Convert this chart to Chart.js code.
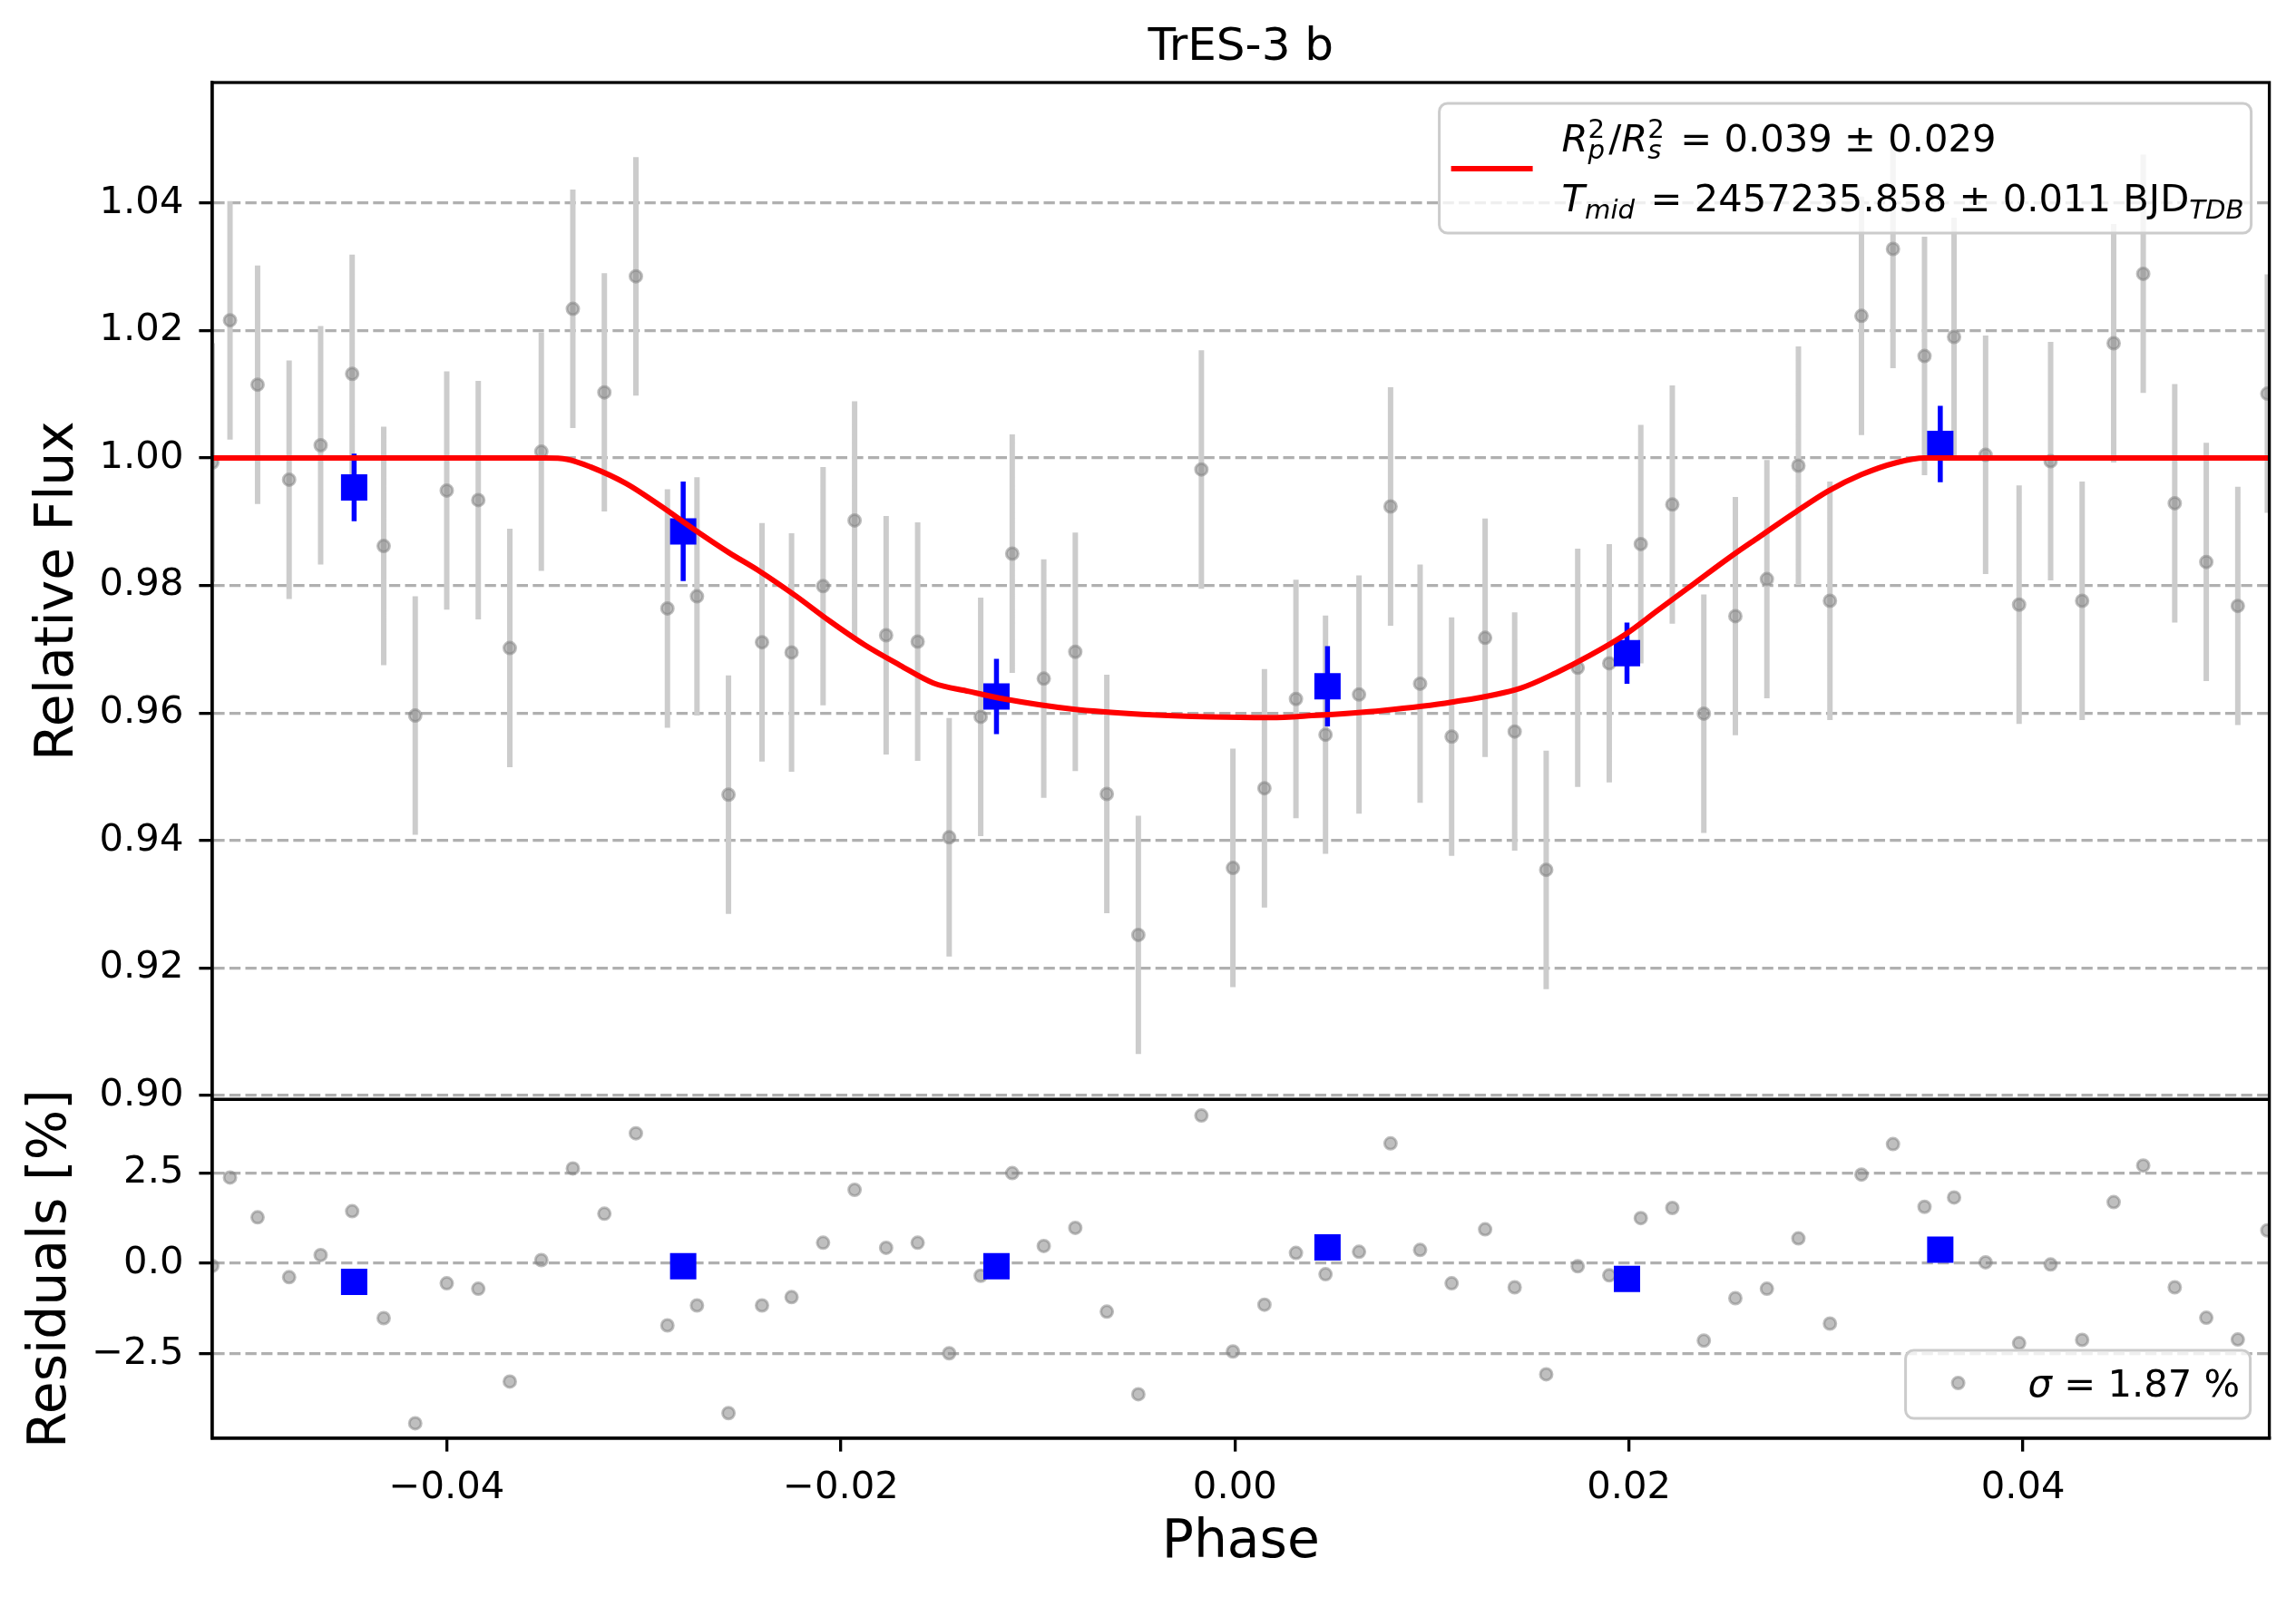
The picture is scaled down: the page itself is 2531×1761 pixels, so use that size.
<!DOCTYPE html>
<html>
<head>
<meta charset="utf-8">
<title>TrES-3 b</title>
<script src="https://cdn.jsdelivr.net/npm/chart.js@4.4.1/dist/chart.umd.min.js"></script>
<style>
  html, body { margin: 0; padding: 0; background: #fff; }
  #wrap { width: 2531px; height: 1761px; }
</style>
</head>
<body>
<div id="wrap"><canvas id="myChart"></canvas></div>
<script>
// unbinned points
const grayPhase = [
  -0.0519, -0.0510, -0.0496, -0.0480, -0.0464, -0.0448, -0.0432, -0.0416, -0.0400, -0.0384,
  -0.0368, -0.0352, -0.0336, -0.0320, -0.0304, -0.0288, -0.0273, -0.0257, -0.0240, -0.0225,
  -0.0209, -0.0193, -0.0177, -0.0161, -0.0145, -0.0129, -0.0113, -0.0097, -0.0081, -0.0065,
  -0.0049, -0.0017, -0.0001, 0.0015, 0.0031, 0.0046, 0.0063, 0.0079, 0.0094, 0.0110,
  0.0127, 0.0142, 0.0158, 0.0174, 0.0190, 0.0206, 0.0222, 0.0238, 0.0254, 0.0270,
  0.0286, 0.0302, 0.0318, 0.0334, 0.0350, 0.0365, 0.0381, 0.0398, 0.0414, 0.0430,
  0.0446, 0.0461, 0.0477, 0.0493, 0.0509, 0.0524
];
const grayFlux = [
  0.9993, 1.0216, 1.0115, 0.9966, 1.0020, 1.0132, 0.9862, 0.9596, 0.9949, 0.9934,
  0.9702, 1.0010, 1.0234, 1.0103, 1.0285, 0.9764, 0.9783, 0.9472, 0.9711, 0.9695,
  0.9799, 0.9902, 0.9722, 0.9712, 0.9405, 0.9594, 0.9850, 0.9654, 0.9696, 0.9473,
  0.9252, 0.9982, 0.9357, 0.9482, 0.9622, 0.9566, 0.9629, 0.9924, 0.9646, 0.9563,
  0.9718, 0.9571, 0.9354, 0.9671, 0.9678, 0.9865, 0.9927, 0.9599, 0.9752, 0.9810,
  0.9988, 0.9776, 1.0223, 1.0328, 1.0160, 1.0190, 1.0005, 0.9770, 0.9995, 0.9776,
  1.0180, 1.0289, 0.9929, 0.9837, 0.9768, 1.0101
];
const grayErr = 0.0187;
const grayResid = [
  -0.07, 2.37, 1.27, -0.38, 0.23, 1.44, -1.51, -4.41, -0.55, -0.70,
  -3.26, 0.09, 2.62, 1.37, 3.59, -1.71, -1.16, -4.13, -1.16, -0.93,
  0.57, 2.03, 0.43, 0.57, -2.48, -0.34, 2.49, 0.48, 0.98, -1.33,
  -3.61, 4.08, -2.43, -1.14, 0.29, -0.30, 0.32, 3.31, 0.37, -0.55,
  0.94, -0.66, -3.06, -0.08, -0.33, 1.25, 1.53, -2.13, -0.96, -0.70,
  0.69, -1.66, 2.45, 3.29, 1.56, 1.82, 0.03, -2.20, -0.03, -2.11,
  1.69, 2.70, -0.66, -1.50, -2.10, 0.91
];

// binned points
const binPhase = [-0.0447, -0.0280, -0.0121, 0.0047, 0.0199, 0.0358];
const binFlux = [0.9954, 0.9885, 0.9626, 0.9642, 0.9694, 1.0022];
const binErr = [0.0053, 0.0078, 0.0059, 0.0063, 0.0048, 0.0060];
const binResid = [-0.51, -0.08, -0.08, 0.44, -0.43, 0.38];

// transit model
const modelPhase = [
  -0.0519, -0.0350, -0.0339, -0.0327, -0.0309, -0.0292, -0.0274, -0.0257, -0.0241, -0.0223,
  -0.0206, -0.0188, -0.0170, -0.0153, -0.0135, -0.0117, -0.0082, -0.0047, -0.0012, 0.0018,
  0.0039, 0.0075, 0.0110, 0.0145, 0.0163, 0.0180, 0.0198, 0.0215, 0.0233, 0.0251,
  0.0266, 0.0284, 0.0301, 0.0318, 0.0336, 0.0350, 0.0525
];
const modelFlux = [
  1.0000, 1.0000, 0.9998, 0.9986, 0.9960, 0.9926, 0.9887, 0.9852, 0.9822, 0.9784,
  0.9745, 0.9707, 0.9675, 0.9647, 0.9634, 0.9622, 0.9606, 0.9598, 0.9594, 0.9593,
  0.9596, 0.9604, 0.9617, 0.9639, 0.9663, 0.9690, 0.9723, 0.9762, 0.9803, 0.9844,
  0.9876, 0.9914, 0.9948, 0.9974, 0.9993, 1.0000, 1.0000
];

// axes
const phaseRange = [-0.0519, 0.0525];
const fluxRange = [0.8994, 1.0589];
const residRange = [-4.825, 4.525];
const phaseTicks = [-0.04, -0.02, 0.00, 0.02, 0.04];
const fluxTicks = [0.90, 0.92, 0.94, 0.96, 0.98, 1.00, 1.02, 1.04];
const residTicks = [-2.5, 0.0, 2.5];

const FONT = '"DejaVu Sans", sans-serif';
Chart.defaults.font.family = FONT;
Chart.defaults.color = '#000';

const fmt = (v, d) => v.toFixed(d).replace('-', '\u2212');
const pts = (xs, ys) => xs.map((x, i) => ({x: x, y: ys[i]}));

function errSegments(xs, ys, errs) {
  const out = [];
  xs.forEach((x, i) => {
    const e = Array.isArray(errs) ? errs[i] : errs;
    out.push({x: x, y: ys[i] - e}, {x: x, y: ys[i] + e}, {x: x, y: null});
  });
  return out;
}

const grayPoint = {
  pointStyle: 'circle',
  pointRadius: 6.5,
  backgroundColor: 'rgba(128,128,128,0.5)',
  borderColor: 'rgba(128,128,128,0.5)',
  borderWidth: 3,
  showLine: false
};
const bluePoint = {
  pointStyle: 'rect',
  pointRadius: 20.5,
  backgroundColor: '#0000ff',
  borderWidth: 0,
  showLine: false
};

function tickSetter(list) {
  return scale => { scale.ticks = list.map(v => ({value: v})); };
}

const axisGrid = {
  color: '#b0b0b0', lineWidth: 3.3,
  drawTicks: true, tickLength: 14.6, tickWidth: 3.3, tickColor: '#000', tickBorderDash: []
};

// spines all round, plus the line between the two panels
const framePlugin = {
  id: 'frame',
  afterDatasetsDraw(chart) {
    const {ctx, chartArea: a, scales} = chart;
    const sep = Math.min(scales.y.bottom, scales.y2.bottom);
    ctx.save();
    ctx.strokeStyle = '#000';
    ctx.lineWidth = 3.3;
    ctx.strokeRect(a.left, a.top, a.right - a.left, a.bottom - a.top);
    ctx.beginPath();
    ctx.moveTo(a.left, sep);
    ctx.lineTo(a.right, sep);
    ctx.stroke();
    ctx.restore();
  }
};

function drawRuns(ctx, x, y, runs, size) {
  runs.forEach(r => {
    if (r.sup !== undefined || r.sub !== undefined) {
      const s = size * 0.7;
      ctx.font = (r.it ? 'italic ' : '') + s + 'px ' + FONT;
      let w = 0;
      if (r.sup !== undefined) {
        ctx.fillText(r.sup, x, y - size * 0.36);
        w = Math.max(w, ctx.measureText(r.sup).width);
      }
      if (r.sub !== undefined) {
        ctx.font = (r.subIt ? 'italic ' : '') + s + 'px ' + FONT;
        ctx.fillText(r.sub, x, y + size * 0.2);
        w = Math.max(w, ctx.measureText(r.sub).width);
      }
      x += w + size * 0.1;
    } else {
      ctx.font = (r.it ? 'italic ' : '') + size + 'px ' + FONT;
      ctx.fillText(r.t, x, y);
      x += ctx.measureText(r.t).width;
    }
  });
}

function legendBox(ctx, x, y, w, h) {
  ctx.beginPath();
  ctx.roundRect(x, y, w, h, 9);
  ctx.fillStyle = 'rgba(255,255,255,0.8)';
  ctx.fill();
  ctx.strokeStyle = '#cccccc';
  ctx.lineWidth = 3;
  ctx.stroke();
}

const legendPlugin = {
  id: 'mplLegends',
  afterDraw(chart) {
    const {ctx, chartArea: a} = chart;
    const F = 41.7;
    ctx.save();
    ctx.textBaseline = 'alphabetic';
    ctx.textAlign = 'left';

    // fit legend, upper right
    const w1 = 895, h1 = 143;
    const x1 = a.right - 20 - w1, y1 = a.top + 23;
    legendBox(ctx, x1, y1, w1, h1);
    ctx.strokeStyle = '#ff0000';
    ctx.lineWidth = 6;
    ctx.beginPath();
    ctx.moveTo(x1 + 13, y1 + 72);
    ctx.lineTo(x1 + 103, y1 + 72);
    ctx.stroke();
    ctx.fillStyle = '#000';
    drawRuns(ctx, x1 + 135, y1 + 53, [
      {t: 'R', it: true}, {sup: '2', sub: 'p', subIt: true},
      {t: '/'},
      {t: 'R', it: true}, {sup: '2', sub: 's', subIt: true},
      {t: ' = 0.039 \u00b1 0.029'}
    ], F);
    drawRuns(ctx, x1 + 135, y1 + 119, [
      {t: 'T', it: true}, {sub: 'mid', subIt: true},
      {t: ' = 2457235.858 \u00b1 0.011 BJD'},
      {sub: 'TDB', subIt: true}
    ], F);

    // residual legend, lower right
    const w2 = 380, h2 = 75;
    const x2 = a.right - 21 - w2, y2 = a.bottom - 22 - h2;
    legendBox(ctx, x2, y2, w2, h2);
    ctx.beginPath();
    ctx.arc(x2 + 58, y2 + 36, 6.5, 0, Math.PI * 2);
    ctx.fillStyle = 'rgba(128,128,128,0.5)';
    ctx.fill();
    ctx.strokeStyle = 'rgba(128,128,128,0.5)';
    ctx.lineWidth = 3;
    ctx.stroke();
    ctx.fillStyle = '#000';
    drawRuns(ctx, x2 + 135, y2 + 51, [
      {t: '\u03c3', it: true}, {t: ' = 1.87 %'}
    ], F);
    ctx.restore();
  }
};

const ctx = document.getElementById('myChart').getContext('2d');
const myChart = new Chart(ctx, {
  type: 'scatter',
  data: {
    datasets: [
      {
        data: pts(modelPhase, modelFlux), yAxisID: 'y', order: 1,
        showLine: true, borderColor: '#ff0000', borderWidth: 6, pointRadius: 0,
        cubicInterpolationMode: 'monotone'
      },
      Object.assign({data: pts(binPhase, binFlux), yAxisID: 'y', order: 2}, bluePoint),
      {
        data: errSegments(binPhase, binFlux, binErr), yAxisID: 'y', order: 3,
        showLine: true, spanGaps: false, borderColor: '#0000ff', borderWidth: 5.5, pointRadius: 0
      },
      Object.assign({data: pts(grayPhase, grayFlux), yAxisID: 'y', order: 4}, grayPoint),
      {
        data: errSegments(grayPhase, grayFlux, grayErr), yAxisID: 'y', order: 5,
        showLine: true, spanGaps: false, borderColor: '#cccccc', borderWidth: 6, pointRadius: 0
      },
      Object.assign({data: pts(binPhase, binResid), yAxisID: 'y2', order: 2}, bluePoint),
      Object.assign({data: pts(grayPhase, grayResid), yAxisID: 'y2', order: 4}, grayPoint)
    ]
  },
  options: {
    responsive: true,
    maintainAspectRatio: false,
    animation: false,
    events: [],
    layout: { autoPadding: false, padding: {left: 0, right: 29.4, top: 0, bottom: 0} },
    plugins: {
      legend: { display: false },
      tooltip: { enabled: false },
      title: {
        display: true, text: 'TrES-3 b', fullSize: false, color: '#000',
        font: {size: 50, weight: 'normal'}, padding: {top: 23.5, bottom: 7.5}
      }
    },
    scales: {
      x: {
        type: 'linear', position: 'bottom',
        min: phaseRange[0], max: phaseRange[1],
        afterBuildTicks: tickSetter(phaseTicks),
        afterFit: s => { s.height = 175; },
        grid: Object.assign({}, axisGrid, {drawOnChartArea: false}),
        border: {color: '#000', width: 3.3},
        ticks: {font: {size: 41.7}, padding: 16, maxRotation: 0, autoSkip: false,
                callback: v => fmt(v, 2)},
        title: {display: true, text: 'Phase', font: {size: 58.3}, padding: {top: 0, bottom: 24}}
      },
      y: {
        type: 'linear', position: 'left', stack: 'panels', stackWeight: 3, weight: 2,
        min: fluxRange[0], max: fluxRange[1],
        afterBuildTicks: tickSetter(fluxTicks),
        afterFit: s => { s.width = 234; },
        grid: axisGrid,
        border: {color: '#000', width: 3.3, dash: [12.3, 5.3]},
        ticks: {font: {size: 41.7}, padding: 17, callback: v => fmt(v, 2)},
        title: {display: true, text: 'Relative Flux', font: {size: 58.3}, padding: {top: 30, bottom: 0}}
      },
      y2: {
        type: 'linear', position: 'left', stack: 'panels', stackWeight: 1, weight: 1,
        min: residRange[0], max: residRange[1],
        afterBuildTicks: tickSetter(residTicks),
        afterFit: s => { s.width = 234; },
        grid: axisGrid,
        border: {color: '#000', width: 3.3, dash: [12.3, 5.3]},
        ticks: {font: {size: 41.7}, padding: 17, callback: v => fmt(v, 1)},
        title: {display: true, text: 'Residuals [%]', font: {size: 58.3}, padding: {top: 22, bottom: 0}}
      }
    }
  },
  plugins: [framePlugin, legendPlugin]
});
</script>
</body>
</html>
